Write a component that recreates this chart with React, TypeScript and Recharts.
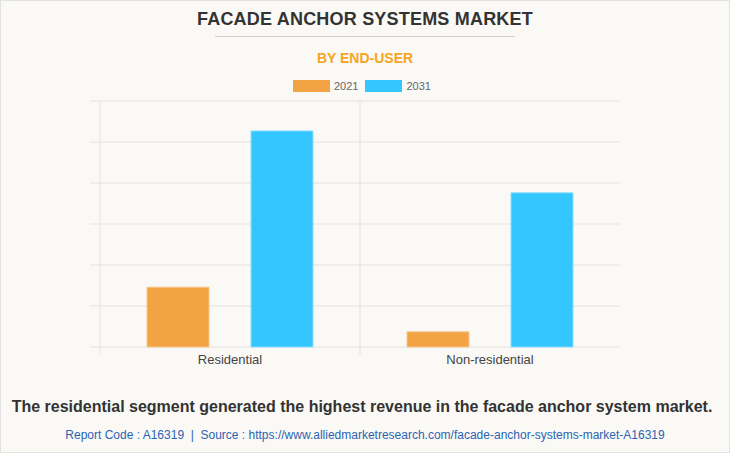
import { Bar, BarChart, CartesianGrid, XAxis, YAxis } from "recharts";

const categories = ["Residential", "Non-residential"];
const seriesNames = ["2021", "2031"];
const values2021 = [1.46, 0.37];
const values2031 = [5.27, 3.76];
const yTicks = [0, 1, 2, 3, 4, 5, 6];

const COLORS = ["#f2a444", "#33c6ff"];
const STROKES = ["#f7c68e", "#8fdcff"];
const GRID = "#e3e3e0";

const data = categories.map((name, i) => ({
  name,
  [seriesNames[0]]: values2021[i],
  [seriesNames[1]]: values2031[i],
}));

const font = '"Liberation Sans", Arial, sans-serif';

function CategoryTick(props: any) {
  const { x, y, payload } = props;
  const bx = x - (payload.offset ?? 0);
  return (
    <g>
      <line x1={bx} x2={bx} y1={y - 8} y2={y} stroke={GRID} />
      <text
        x={x}
        y={y}
        dy="0.71em"
        textAnchor="middle"
        fontSize={13}
        fill="#444"
        fontFamily={font}
      >
        {payload.value}
      </text>
    </g>
  );
}

export default function App() {
  return (
    <div
      style={{
        position: "absolute",
        left: 0,
        top: 0,
        width: 730,
        height: 453,
        boxSizing: "border-box",
        border: "1px solid #e2e2e2",
        background: "#faf9f5",
        fontFamily: font,
        overflow: "hidden",
      }}
    >
      <div
        style={{
          position: "absolute",
          top: 8,
          left: -1,
          width: 730,
          textAlign: "center",
          fontSize: 18,
          fontWeight: 700,
          color: "#333",
          letterSpacing: 0.2,
        }}
      >
        FACADE ANCHOR SYSTEMS MARKET
      </div>
      <div
        style={{
          position: "absolute",
          top: 35,
          left: 214,
          width: 300,
          height: 1,
          background: "#cfcfcf",
        }}
      />
      <div
        style={{
          position: "absolute",
          top: 49,
          left: -1,
          width: 730,
          textAlign: "center",
          fontSize: 14,
          fontWeight: 700,
          color: "#f7a51f",
        }}
      >
        BY END-USER
      </div>
      <div
        style={{
          position: "absolute",
          top: 79,
          left: 292,
          display: "flex",
          alignItems: "center",
          gap: 7,
          fontSize: 11,
          color: "#666",
        }}
      >
        {seriesNames.map((s, i) => (
          <div key={s} style={{ display: "flex", alignItems: "center", gap: 4 }}>
            <span
              style={{
                display: "inline-block",
                width: 37,
                height: 12,
                background: COLORS[i],
              }}
            />
            <span>{s}</span>
          </div>
        ))}
      </div>

      <div style={{ position: "absolute", top: 89, left: -1 }}>
        <BarChart
          width={730}
          height={287}
          data={data}
          margin={{ top: 11, right: 110, bottom: 0, left: 90 }}
          barGap={42}
          barCategoryGap={47}
        >
          <CartesianGrid
            stroke={GRID}
            verticalCoordinatesGenerator={({ offset }: any) => [
              offset.left,
              offset.left + offset.width / categories.length,
            ]}
          />
          <XAxis
            dataKey="name"
            height={30}
            axisLine={false}
            tickLine={false}
            tick={<CategoryTick />}
            interval={0}
          />
          <YAxis
            width={10}
            domain={[0, 6]}
            ticks={yTicks}
            axisLine={false}
            tickLine={{ stroke: GRID }}
            tickSize={10}
            tickFormatter={() => ""}
          />
          {seriesNames.map((s, i) => (
            <Bar
              key={s}
              dataKey={s}
              fill={COLORS[i]}
              stroke={STROKES[i]}
              strokeWidth={1}
              isAnimationActive={false}
            />
          ))}
        </BarChart>
      </div>

      <div
        style={{
          position: "absolute",
          top: 397,
          left: -4,
          width: 730,
          textAlign: "center",
          fontSize: 16,
          fontWeight: 700,
          color: "#333",
        }}
      >
        The residential segment generated the highest revenue in the facade anchor system market.
      </div>
      <div
        style={{
          position: "absolute",
          top: 427,
          left: -1,
          width: 730,
          textAlign: "center",
          fontSize: 12,
          color: "#2a64b4",
        }}
      >
        Report Code : A16319&nbsp; | &nbsp;Source : https://www.alliedmarketresearch.com/facade-anchor-systems-market-A16319
      </div>
    </div>
  );
}
